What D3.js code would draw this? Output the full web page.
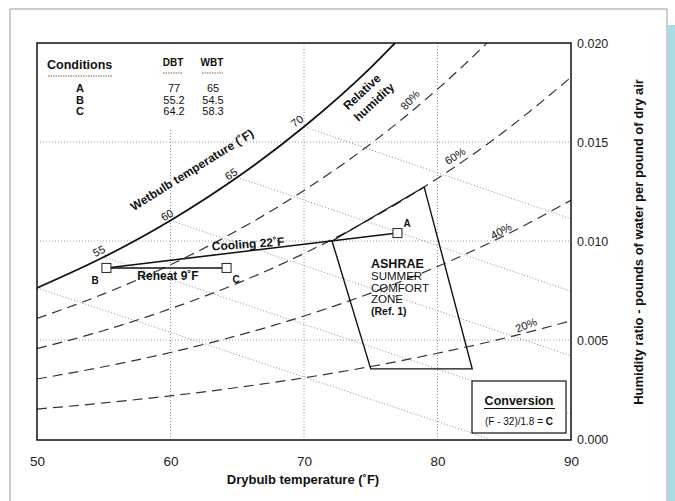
<!DOCTYPE html>
<html><head><meta charset="utf-8">
<script src="https://cdn.jsdelivr.net/npm/d3@7"></script>
<style>
body{margin:0;background:#fff;}
svg text{font-family:"Liberation Sans",Arial,Helvetica,sans-serif;}
</style></head>
<body><svg id="c" width="675" height="501"></svg>
<script>
// ---- data ----
const dbtTicks = [50, 60, 70, 80, 90];
const wTicks = [0.000, 0.005, 0.010, 0.015, 0.020];
const gridDbt = [60, 70, 80];
const gridW = [0.005, 0.010, 0.015];
// saturation (100% RH) humidity ratio
const satT = [50, 55, 60, 65, 70, 75, 77];
const satW = [0.00763, 0.00919, 0.01104, 0.01322, 0.01577, 0.01876, 0.02012];
// relative humidity curves
const rhT = [50, 55, 60, 65, 70, 75, 80, 85, 90];
const rh80 = [0.00609, 0.00733, 0.00880, 0.01053, 0.01255, 0.01491, 0.01767, 0.02088, 0.02460];
const rh60 = [0.00456, 0.00548, 0.00658, 0.00786, 0.00937, 0.01112, 0.01316, 0.01553, 0.01827];
const rh40 = [0.00303, 0.00365, 0.00437, 0.00522, 0.00621, 0.00737, 0.00871, 0.01027, 0.01206];
const rh20 = [0.00151, 0.00182, 0.00218, 0.00260, 0.00309, 0.00366, 0.00433, 0.00509, 0.00597];
const rhLabels = ["80%", "60%", "40%", "20%"];
// wetbulb lines: start on saturation, end point
const wbTemps = [50, 55, 60, 65, 70];
const wbStartW = [0.00763, 0.00919, 0.01104, 0.01322, 0.01577];
const wbEndT = [83.9, 90, 90, 90, 90];
const wbEndW = [0.0, 0.00127, 0.00420, 0.00746, 0.01112];
const wbLabels = ["55", "60", "65", "70"];
// process points
const pointNames = ["A", "B", "C"];
const pointDBT = [77, 55.2, 64.2];
const pointWBT = [65, 54.5, 58.3];
const pointW = [0.01040, 0.00864, 0.00864];
// comfort zone
const zoneT = [72.1, 79.0, 82.6, 75.0];
const zoneW = [0.0100, 0.01273, 0.00354, 0.00354];

// ---- chart ----
const svg = d3.select("#c");
const x = d3.scaleLinear().domain([50, 90]).range([37, 571]);
const y = d3.scaleLinear().domain([0, 0.02]).range([439, 43]);
const line = d3.line().x(d => x(d[0])).y(d => y(d[1])).curve(d3.curveMonotoneX);

// page frame
svg.append("path").attr("d", "M10,501 V9 H667 V501").attr("fill", "none").attr("stroke", "#999").attr("stroke-width", 1);
svg.append("rect").attr("x", 668).attr("y", 25).attr("width", 7).attr("height", 476).attr("fill", "#a9dbe6");

svg.append("defs").append("clipPath").attr("id", "clip").append("rect")
  .attr("x", x(50)).attr("y", y(0.02)).attr("width", x(90) - x(50)).attr("height", y(0) - y(0.02));
const g = svg.append("g").attr("clip-path", "url(#clip)");

// grid
g.selectAll(".gv").data(gridDbt).join("line").attr("x1", d => x(d)).attr("x2", d => x(d))
  .attr("y1", y(0.02)).attr("y2", y(0)).attr("stroke", "#9a9a9a").attr("stroke-dasharray", "1,2").attr("stroke-width", 1);
g.selectAll(".gh").data(gridW).join("line").attr("y1", d => y(d)).attr("y2", d => y(d))
  .attr("x1", x(50)).attr("x2", x(90)).attr("stroke", "#9a9a9a").attr("stroke-dasharray", "1,2").attr("stroke-width", 1);
// wetbulb lines
g.selectAll(".wb").data(wbTemps).join("line")
  .attr("x1", (d, i) => x(d)).attr("y1", (d, i) => y(wbStartW[i]))
  .attr("x2", (d, i) => x(wbEndT[i])).attr("y2", (d, i) => y(wbEndW[i]))
  .attr("stroke", "#8f8f8f").attr("stroke-dasharray", "1,2").attr("stroke-width", 1);

// table background
svg.append("rect").attr("x", 38).attr("y", 44).attr("width", 200).attr("height", 84).attr("fill", "#fff");

// RH curves
[rh80, rh60, rh40, rh20].forEach(arr => {
  g.append("path").datum(rhT.map((t, i) => [t, arr[i]])).attr("d", line)
    .attr("fill", "none").attr("stroke", "#333").attr("stroke-width", 1.2).attr("stroke-dasharray", "10,6");
});
// saturation
g.append("path").datum(satT.map((t, i) => [t, satW[i]])).attr("d", line)
  .attr("fill", "none").attr("stroke", "#111").attr("stroke-width", 1.8);

// comfort zone
g.append("path").datum(zoneT.map((t, i) => [t, zoneW[i]]))
  .attr("d", d3.line().x(d => x(d[0])).y(d => y(d[1])).curve(d3.curveLinearClosed))
  .attr("fill", "none").attr("stroke", "#111").attr("stroke-width", 1.4);

// process lines
const A = [pointDBT[0], pointW[0]], B = [pointDBT[1], pointW[1]], C = [pointDBT[2], pointW[2]];
g.append("line").attr("x1", x(A[0])).attr("y1", y(A[1])).attr("x2", x(B[0])).attr("y2", y(B[1]))
  .attr("stroke", "#111").attr("stroke-width", 1.6);
g.append("line").attr("x1", x(B[0])).attr("y1", y(B[1])).attr("x2", x(C[0])).attr("y2", y(C[1]))
  .attr("stroke", "#111").attr("stroke-width", 1.6);
svg.selectAll(".pt").data(pointDBT).join("rect")
  .attr("x", (d) => x(d) - 4.5).attr("y", (d, i) => y(pointW[i]) - 4.5).attr("width", 9).attr("height", 9)
  .attr("fill", "#fff").attr("stroke", "#222").attr("stroke-width", 1);

// frame
svg.append("rect").attr("x", x(50)).attr("y", y(0.02)).attr("width", x(90) - x(50)).attr("height", 440 - y(0.02))
  .attr("fill", "none").attr("stroke", "#111").attr("stroke-width", 1.5);

// axes
const xa = svg.append("g").attr("transform", "translate(0,453)")
  .call(d3.axisBottom(x).tickValues(dbtTicks).tickSize(0).tickFormat(d3.format("d")));
xa.select(".domain").remove();
xa.selectAll("text").attr("font-size", 13.5).attr("fill", "#222").attr("font-family", "Liberation Sans, Arial, sans-serif");
const ya = svg.append("g").attr("transform", "translate(571,0)")
  .call(d3.axisRight(y).tickValues(wTicks).tickSize(0).tickPadding(6).tickFormat(d3.format(".3f")));
ya.select(".domain").remove();
ya.selectAll("text").attr("font-size", 12.5).attr("fill", "#222").attr("font-family", "Liberation Sans, Arial, sans-serif");

svg.append("text").attr("x", 303).attr("y", 484).attr("text-anchor", "middle").attr("font-size", 13).attr("font-weight", "bold")
  .attr("fill", "#111").text("Drybulb temperature (˚F)");
svg.append("text").attr("transform", "translate(643,242) rotate(-90)").attr("text-anchor", "middle").attr("font-size", 13)
  .attr("font-weight", "bold").attr("fill", "#111").text("Humidity ratio - pounds of water per pound of dry air");

// table
const tb = svg.append("g").attr("fill", "#111");
tb.append("text").attr("x", 47).attr("y", 69).attr("font-size", 12.5).attr("font-weight", "bold").text("Conditions");
tb.append("text").attr("x", 173).attr("y", 66).attr("text-anchor", "middle").attr("font-size", 10).attr("font-weight", "bold").text("DBT");
tb.append("text").attr("x", 212).attr("y", 66).attr("text-anchor", "middle").attr("font-size", 10).attr("font-weight", "bold").text("WBT");
[[48, 113, 76], [163, 183, 73], [202, 223, 73]].forEach(s => {
  tb.append("line").attr("x1", s[0]).attr("x2", s[1]).attr("y1", s[2]).attr("y2", s[2])
    .attr("stroke", "#8a5a3a").attr("stroke-width", 1).attr("stroke-dasharray", "1.5,1");
});
pointNames.forEach((n, i) => {
  const yy = 92 + i * 11.5;
  tb.append("text").attr("x", 80).attr("y", yy).attr("text-anchor", "middle").attr("font-size", 11).attr("font-weight", "bold").text(n);
  tb.append("text").attr("x", 174).attr("y", yy).attr("text-anchor", "middle").attr("font-size", 11).text(pointDBT[i]);
  tb.append("text").attr("x", 213).attr("y", yy).attr("text-anchor", "middle").attr("font-size", 11).text(pointWBT[i]);
});

// labels on chart
function lab(txt, cx, cy, ang, size, bold) {
  svg.append("text").attr("transform", `translate(${cx},${cy}) rotate(${ang})`).attr("text-anchor", "middle")
    .attr("dominant-baseline", "central").attr("font-size", size).attr("font-weight", bold ? "bold" : "normal")
    .attr("fill", "#111").text(txt);
}
lab("Wetbulb temperature (˚F)", 192, 170, -32, 12, true);
const wbPos = [[99, 251, -27], [167, 215, -30], [231, 174, -33], [297, 121, -37]];
wbLabels.forEach((t, i) => lab(t, wbPos[i][0], wbPos[i][1], wbPos[i][2], 11, false));
lab("Relative", 362, 92, -43, 12, true);
lab("humidity", 374, 102, -43, 12, true);
const rhPos = [[410, 100, -48], [455, 156, -33], [501, 231, -29], [526, 325, -22]];
rhLabels.forEach((t, i) => lab(t, rhPos[i][0], rhPos[i][1], rhPos[i][2], 11, false));
lab("Cooling 22˚F", 248, 244, -4, 12, true);
lab("Reheat 9˚F", 168, 276, 0, 12, true);
lab("A", 407, 223, 0, 10, true);
lab("B", 95, 280, 0, 10, true);
lab("C", 236, 279, 0, 10, true);

// comfort zone label
const zl = [["ASHRAE", true, 12.5], ["SUMMER", false, 11.5], ["COMFORT", false, 11.5], ["ZONE", false, 11.5], ["(Ref. 1)", true, 10.5]];
zl.forEach((z, i) => {
  svg.append("text").attr("x", 371).attr("y", 268 + i * 11.8).attr("font-size", z[2]).attr("font-weight", z[1] ? "bold" : "normal")
    .attr("fill", "#111").text(z[0]);
});

// conversion box
svg.append("rect").attr("x", 472).attr("y", 381).attr("width", 94).attr("height", 52).attr("fill", "#fff")
  .attr("stroke", "#111").attr("stroke-width", 1.2);
svg.append("text").attr("x", 519).attr("y", 405).attr("text-anchor", "middle").attr("font-size", 12.5).attr("font-weight", "bold")
  .attr("fill", "#111").text("Conversion");
svg.append("line").attr("x1", 484).attr("x2", 555).attr("y1", 408.5).attr("y2", 408.5).attr("stroke", "#111").attr("stroke-width", 1.2);
const f = svg.append("text").attr("x", 519).attr("y", 425).attr("text-anchor", "middle").attr("font-size", 10).attr("fill", "#111");
f.append("tspan").text("(F - 32)/1.8 = ");
f.append("tspan").attr("font-weight", "bold").text("C");
</script></body></html>
